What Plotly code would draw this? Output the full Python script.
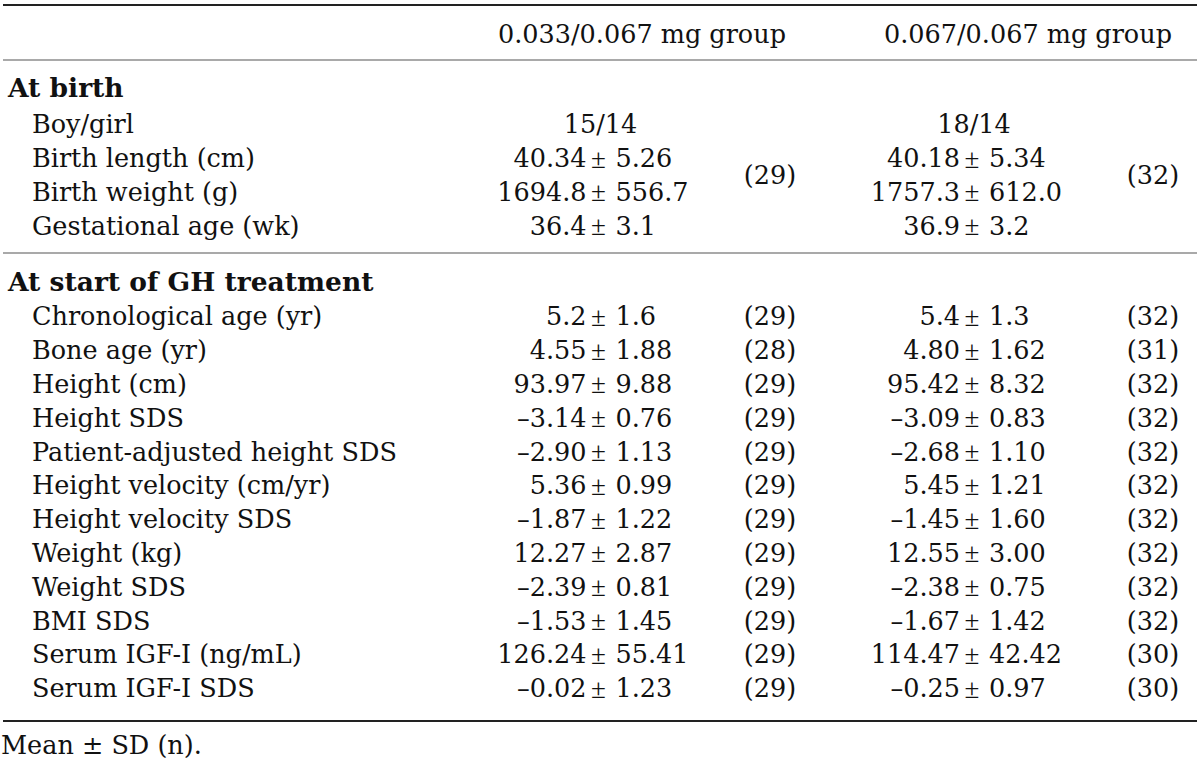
import plotly.graph_objects as go

# table content
col_headers = ["0.033/0.067 mg group", "0.067/0.067 mg group"]
section_titles = ["At birth", "At start of GH treatment"]

birth_labels = ["Boy/girl", "Birth length (cm)", "Birth weight (g)", "Gestational age (wk)"]
birth_mean_1 = ["15/14", "40.34", "1694.8", "36.4"]
birth_sd_1 = [None, "5.26", "556.7", "3.1"]
birth_mean_2 = ["18/14", "40.18", "1757.3", "36.9"]
birth_sd_2 = [None, "5.34", "612.0", "3.2"]
birth_n = ["(29)", "(32)"]

gh_labels = ["Chronological age (yr)", "Bone age (yr)", "Height (cm)", "Height SDS",
             "Patient-adjusted height SDS", "Height velocity (cm/yr)", "Height velocity SDS",
             "Weight (kg)", "Weight SDS", "BMI SDS", "Serum IGF-I (ng/mL)", "Serum IGF-I SDS"]
gh_mean_1 = ["5.2", "4.55", "93.97", "–3.14", "–2.90", "5.36", "–1.87", "12.27", "–2.39",
             "–1.53", "126.24", "–0.02"]
gh_sd_1 = ["1.6", "1.88", "9.88", "0.76", "1.13", "0.99", "1.22", "2.87", "0.81", "1.45",
           "55.41", "1.23"]
gh_n_1 = ["(29)", "(28)", "(29)", "(29)", "(29)", "(29)", "(29)", "(29)", "(29)", "(29)",
          "(29)", "(29)"]
gh_mean_2 = ["5.4", "4.80", "95.42", "–3.09", "–2.68", "5.45", "–1.45", "12.55", "–2.38",
             "–1.67", "114.47", "–0.25"]
gh_sd_2 = ["1.3", "1.62", "8.32", "0.83", "1.10", "1.21", "1.60", "3.00", "0.75", "1.42",
           "42.42", "0.97"]
gh_n_2 = ["(32)", "(31)", "(32)", "(32)", "(32)", "(32)", "(32)", "(32)", "(32)", "(32)",
          "(30)", "(30)"]

footnote = "Mean ± SD (n)."

# layout (pixel-like units on hidden axes)
W, H = 1200, 770
FONT = "DejaVu Serif"
FS = 25.5
ROW_H = 33.8
DY = 2  # small nudge so glyphs sit on the same centre line as the reference
head_y = 35 + DY
birth_title_y = 88 + DY
birth_y0 = 125 + DY
mid_line_y = 253
gh_title_y = 282 + DY
gh_y0 = 317 + DY
bottom_line_y = 721
foot_y = 746 + DY

x_title = 8
x_label = 32
x_head = [642, 1028]
x_pm = [598.5, 972]     # centre of the ± sign
x_n = [770, 1153]

fig = go.Figure()


def add_text(xs, ys, texts, pos, bold=False, family=FONT, size=FS):
    fig.add_trace(go.Scatter(
        x=xs, y=ys, text=texts, mode="text", textposition=pos,
        textfont=dict(family=family, size=size, color="#111111",
                      weight="bold" if bold else "normal"),
        hoverinfo="skip", showlegend=False))


def add_pm_column(means, sds, ys, xc):
    # mean right aligned, ± centred, sd left aligned
    rows = [(m, s, y) for m, s, y in zip(means, sds, ys) if s is not None]
    yy = [r[2] for r in rows]
    add_text([xc - 12] * len(rows), yy, [r[0] for r in rows], "middle left")
    add_text([xc] * len(rows), yy, ["±"] * len(rows), "middle center",
             family="Liberation Serif", size=27)
    add_text([xc + 17] * len(rows), yy, [r[1] for r in rows], "middle right")


# header
add_text(x_head, [head_y] * 2, col_headers, "middle center")

# at birth
birth_y = [birth_y0 + i * ROW_H for i in range(len(birth_labels))]
add_text([x_title], [birth_title_y], [section_titles[0]], "middle right", bold=True, size=26.5)
add_text([x_label] * len(birth_labels), birth_y, birth_labels, "middle right")
for k, (means, sds) in enumerate([(birth_mean_1, birth_sd_1), (birth_mean_2, birth_sd_2)]):
    add_pm_column(means, sds, birth_y, x_pm[k])
    # boy/girl ratio sits centred
    add_text([x_pm[k] + 2], [birth_y[0]], [means[0]], "middle center")
    add_text([x_n[k]], [(birth_y[1] + birth_y[2]) / 2], [birth_n[k]], "middle center")

# at start of GH treatment
gh_y = [gh_y0 + i * ROW_H for i in range(len(gh_labels))]
add_text([x_title], [gh_title_y], [section_titles[1]], "middle right", bold=True, size=26.5)
add_text([x_label] * len(gh_labels), gh_y, gh_labels, "middle right")
add_pm_column(gh_mean_1, gh_sd_1, gh_y, x_pm[0])
add_pm_column(gh_mean_2, gh_sd_2, gh_y, x_pm[1])
add_text([x_n[0]] * len(gh_y), gh_y, gh_n_1, "middle center")
add_text([x_n[1]] * len(gh_y), gh_y, gh_n_2, "middle center")

# footnote
add_text([1], [foot_y], [footnote], "middle right")

# table rules
rules = [(5, 2.2, "#222222"), (60, 1.2, "#555555"), (mid_line_y, 1.2, "#555555"),
         (bottom_line_y, 2, "#222222")]
for y, w, c in rules:
    fig.add_shape(type="line", xref="x", yref="y", x0=3, x1=W - 3, y0=y, y1=y,
                  line=dict(color=c, width=w))

fig.update_xaxes(range=[0, W], visible=False, fixedrange=True)
fig.update_yaxes(range=[H, 0], visible=False, fixedrange=True)
fig.update_layout(width=W, height=H, margin=dict(l=0, r=0, t=0, b=0),
                  plot_bgcolor="white", paper_bgcolor="white")

# drop the default page margin so the table fills the window from the corner
fig.write_html("out.html", config={"displayModeBar": False},
               post_script="document.body.style.margin = '0';")
